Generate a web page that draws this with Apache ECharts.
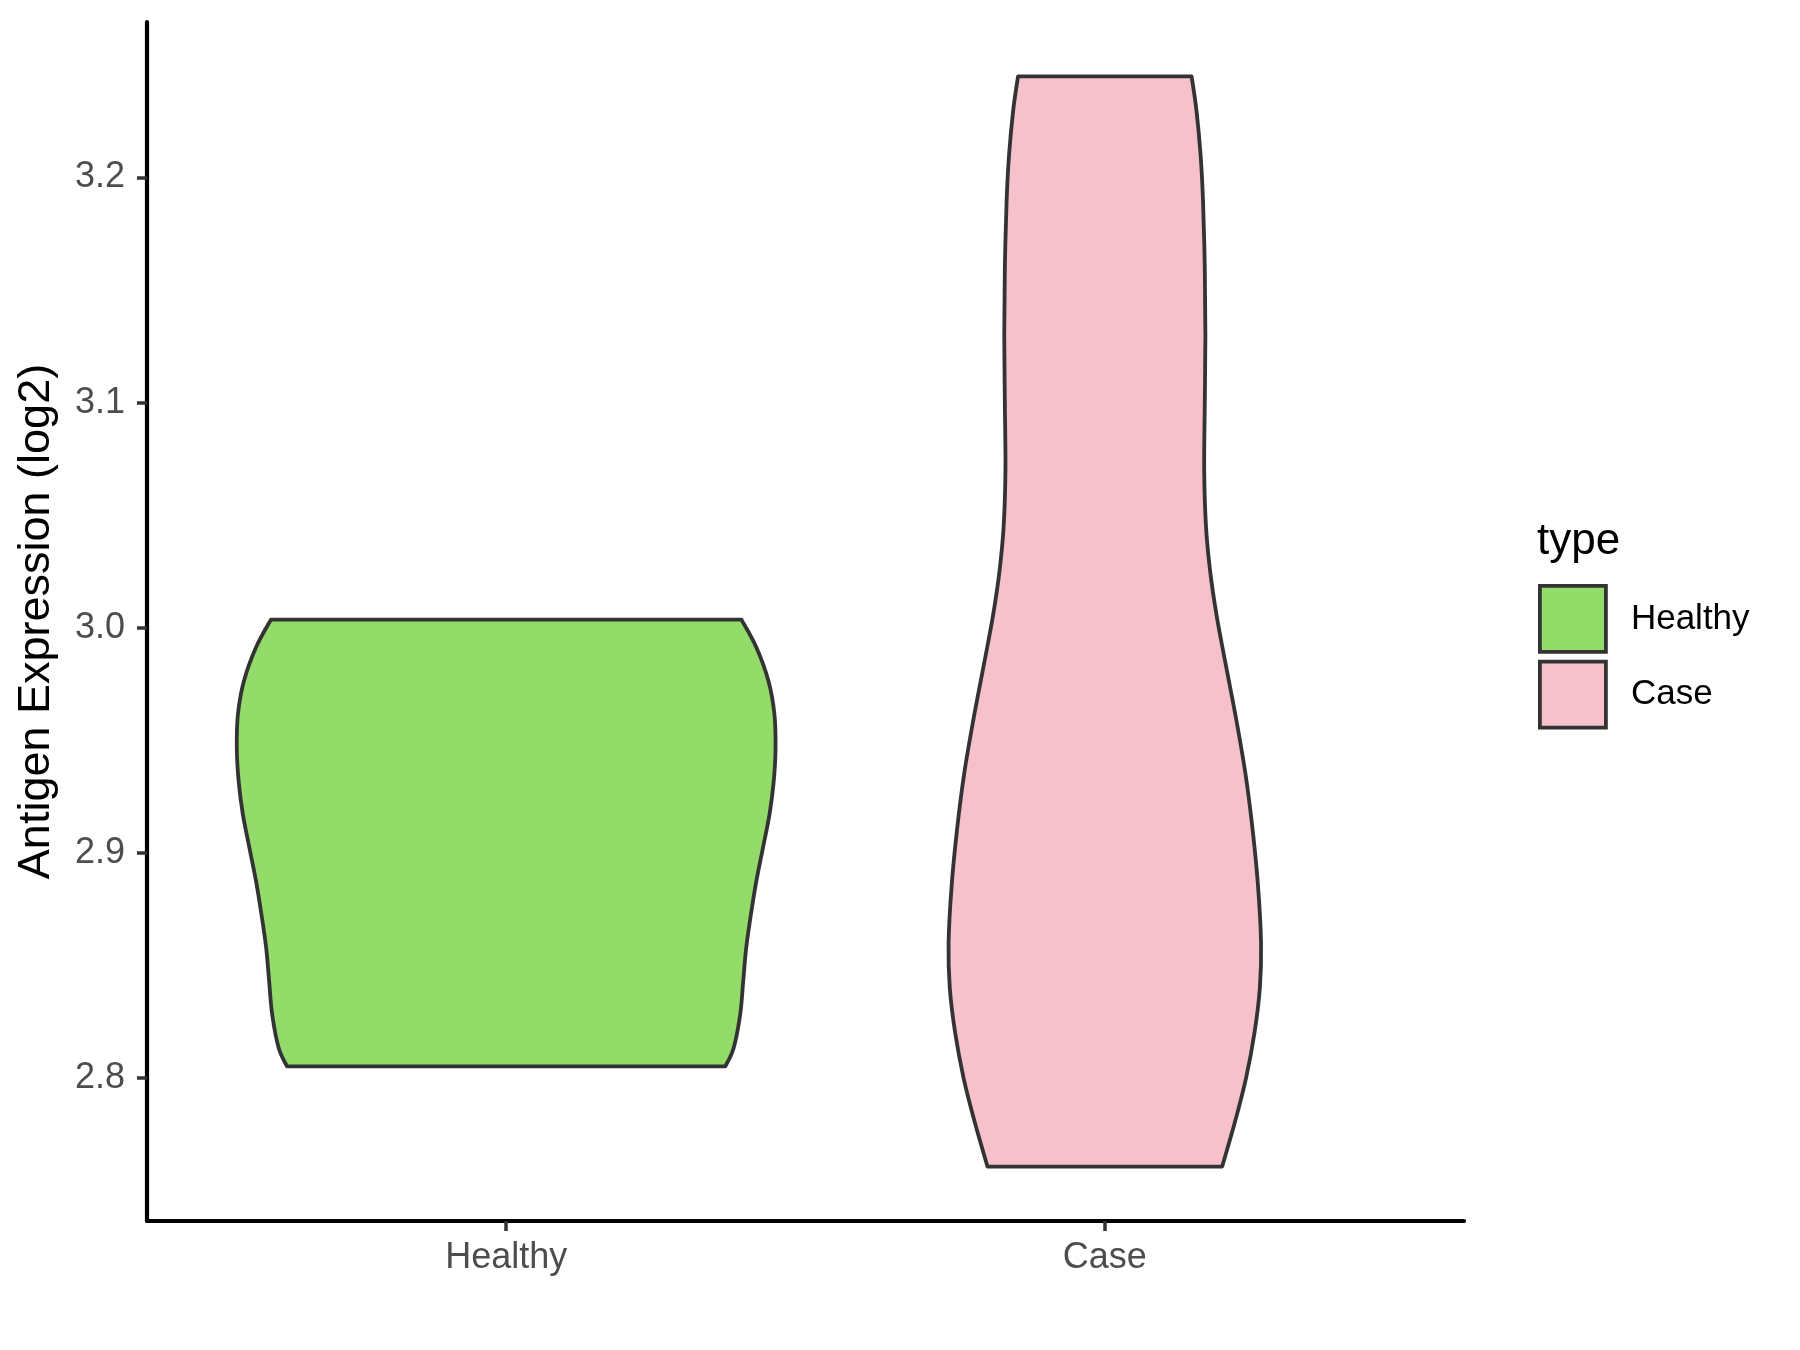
<!DOCTYPE html>
<html>
<head>
<meta charset="utf-8">
<script src="https://cdn.jsdelivr.net/npm/echarts@6/dist/echarts.min.js"></script>
<style>
html,body{margin:0;padding:0;background:#ffffff;}
#chart{width:1800px;height:1350px;}
</style>
</head>
<body>
<div id="chart"></div>
<script>
// ---------- data ----------
const categories = ['Healthy', 'Case'];
const categoryPositions = [1, 2];
const yTickValues = [2.8, 2.9, 3.0, 3.1, 3.2];

// violin outlines: y value and half-width (in x-axis units) at that value
const healthyValues = [3.0036, 2.9912, 2.9764, 2.9618, 2.9468, 2.9320, 2.9173, 2.9023, 2.8876, 2.8729, 2.8579, 2.8431, 2.8284, 2.8133, 2.8051];
const healthyHalfWidths = [0.393, 0.418, 0.438, 0.448, 0.450, 0.447, 0.440, 0.429, 0.418, 0.409, 0.401, 0.396, 0.391, 0.380, 0.366];

const caseValues = [3.2449, 3.230, 3.210, 3.190, 3.160, 3.130, 3.100, 3.070, 3.045, 3.025, 3.005, 2.985, 2.960, 2.935, 2.910, 2.885, 2.860, 2.840, 2.820, 2.800, 2.780, 2.7606];
const caseHalfWidths = [0.145, 0.153, 0.160, 0.164, 0.167, 0.168, 0.167, 0.166, 0.169, 0.176, 0.187, 0.201, 0.219, 0.235, 0.247, 0.256, 0.261, 0.259, 0.250, 0.236, 0.217, 0.196];

const fillColors = ['#93DC6A', '#F7C1CB'];

// ---------- helpers ----------
const FONT = '"Liberation Sans", Arial, Helvetica, sans-serif';
const yMin = 2.7364, yMax = 3.2691;
const xMin = 0.4, xMax = 2.6;

function smoothSegments(pts) {
  let d = '';
  const n = pts.length;
  for (let i = 0; i < n - 1; i++) {
    const p0 = pts[Math.max(0, i - 1)];
    const p1 = pts[i];
    const p2 = pts[i + 1];
    const p3 = pts[Math.min(n - 1, i + 2)];
    const c1x = p1[0] + (p2[0] - p0[0]) / 6;
    const c1y = p1[1] + (p2[1] - p0[1]) / 6;
    const c2x = p2[0] - (p3[0] - p1[0]) / 6;
    const c2y = p2[1] - (p3[1] - p1[1]) / 6;
    d += ' C' + c1x + ',' + c1y + ' ' + c2x + ',' + c2y + ' ' + p2[0] + ',' + p2[1];
  }
  return d;
}

function violinRenderer(center, values, halfWidths, fill) {
  return function (params, api) {
    const left = values.map((v, i) => api.coord([center - halfWidths[i], v]));
    const right = values.map((v, i) => api.coord([center + halfWidths[i], v])).reverse();
    let d = 'M' + left[0][0] + ',' + left[0][1];
    d += smoothSegments(left);
    d += ' L' + right[0][0] + ',' + right[0][1];
    d += smoothSegments(right);
    d += ' Z';
    return {
      type: 'path',
      shape: { pathData: d },
      style: { fill: fill, stroke: '#333333', lineWidth: 3.8, lineJoin: 'round' }
    };
  };
}

const groups = [
  { values: healthyValues, halfWidths: healthyHalfWidths },
  { values: caseValues, halfWidths: caseHalfWidths }
];

const chart = echarts.init(document.getElementById('chart'), null, { renderer: 'canvas' });

const option = {
  backgroundColor: '#ffffff',
  animation: false,
  grid: { left: 147, right: 336, top: 22, bottom: 129, outerBoundsMode: 'none', containLabel: false },
  xAxis: {
    type: 'value',
    min: xMin,
    max: xMax,
    splitLine: { show: false },
    axisLine: { show: true, onZero: false, lineStyle: { color: '#000000', width: 4.2 } },
    axisTick: { show: true, length: 10, customValues: categoryPositions, lineStyle: { color: '#333333', width: 3.5 } },
    axisLabel: {
      show: true,
      customValues: categoryPositions,
      margin: 19,
      fontSize: 36,
      fontFamily: FONT,
      color: '#4D4D4D',
      formatter: function (v) {
        const idx = categoryPositions.indexOf(Math.round(v));
        return idx >= 0 ? categories[idx] : '';
      }
    }
  },
  yAxis: {
    type: 'value',
    min: yMin,
    max: yMax,
    name: 'Antigen Expression (log2)',
    nameLocation: 'middle',
    nameGap: 88,
    nameTextStyle: { fontSize: 45, fontFamily: FONT, color: '#000000' },
    splitLine: { show: false },
    axisLine: { show: true, onZero: false, lineStyle: { color: '#000000', width: 4.2 } },
    axisTick: { show: true, length: 10, customValues: yTickValues, lineStyle: { color: '#333333', width: 3.5 } },
    axisLabel: {
      show: true,
      customValues: yTickValues,
      margin: 22,
      fontSize: 36,
      fontFamily: FONT,
      color: '#4D4D4D',
      formatter: function (v) { return Number(v).toFixed(1); }
    }
  },
  legend: {
    orient: 'vertical',
    left: 1538,
    top: 584,
    padding: 0,
    itemWidth: 66,
    itemHeight: 66,
    itemGap: 6,
    icon: 'rect',
    selectedMode: false,
    data: categories.map((c, i) => ({
      name: c,
      icon: 'rect',
      itemStyle: { color: fillColors[i], borderColor: '#333333', borderWidth: 3.8 }
    })),
    textStyle: { fontSize: 35, fontFamily: FONT, color: '#000000', padding: [7, 0, 0, 20] }
  },
  graphic: [
    {
      type: 'text',
      left: 1537,
      top: 520,
      style: { text: 'type', fontSize: 44, fontFamily: FONT, fill: '#000000' }
    }
  ],
  series: categories.map((c, i) => ({
    name: c,
    type: 'custom',
    coordinateSystem: 'cartesian2d',
    itemStyle: { color: fillColors[i], borderColor: '#333333', borderWidth: 3.8 },
    data: [[categoryPositions[i], groups[i].values[0]]],
    renderItem: violinRenderer(categoryPositions[i], groups[i].values, groups[i].halfWidths, fillColors[i]),
    clip: false,
    silent: true
  }))
};

chart.setOption(option);
</script>
</body>
</html>
